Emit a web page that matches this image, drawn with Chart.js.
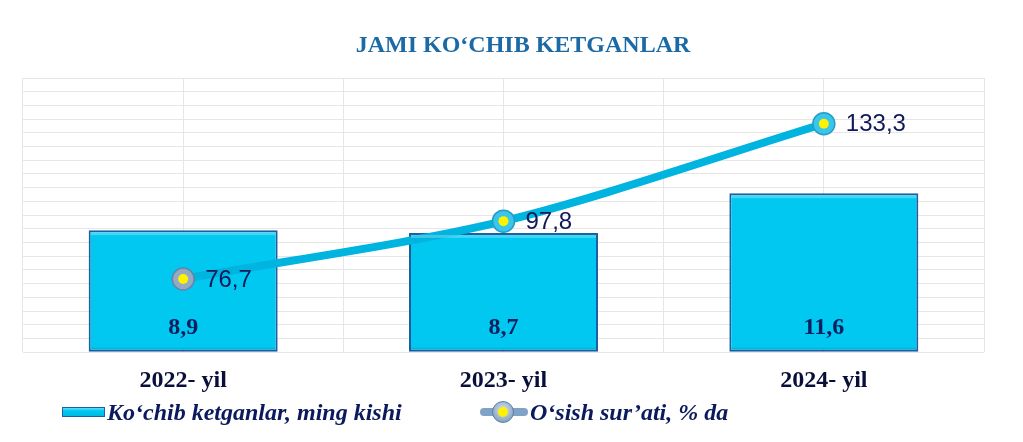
<!DOCTYPE html>
<html>
<head>
<meta charset="utf-8">
<script src="https://cdn.jsdelivr.net/npm/chart.js@4.4.1/dist/chart.umd.min.js"></script>
<style>
  html, body { margin: 0; padding: 0; background: #ffffff; }
  #wrap { position: relative; width: 1023px; height: 442px; }
  #c { position: absolute; left: 0; top: 0; }
  .lg { position: absolute; top: 399px; height: 26px; display: flex; align-items: center;
        font: italic bold 24px "Liberation Serif", "DejaVu Serif", serif; color: #0B1A5C; white-space: nowrap; }
  .box1 { width: 41px; height: 8px; background: linear-gradient(#5fe0ff, #00c8f0 35%, #00b8e4); border: 1px solid #1F5F9F; margin-right: 2px; }
  .mk2 { position: relative; width: 48px; height: 24px; margin-right: 2px; }
  .mk2 .ln { position: absolute; left: 0; top: 8px; width: 48px; height: 8px; border-radius: 4px; background: #7FA3C7; }
  .mk2 .pt { position: absolute; left: 12px; top: 1px; width: 20px; height: 20px; border-radius: 50%;
             background: radial-gradient(circle at 50% 40%, #d9e6f2, #8fa8c4 70%, #6f8fb3); border: 1px solid #5B7FA6; }
  .mk2 .pt i { position: absolute; left: 5px; top: 5px; width: 10px; height: 10px; border-radius: 50%; background: #FFF200; }
</style>
</head>
<body>
<div id="wrap">
  <canvas id="c" width="1023" height="442"></canvas>
  <div class="lg" style="left:62px;"><span class="box1"></span><span>Ko‘chib ketganlar, ming kishi</span></div>
  <div class="lg" style="left:480px;"><span class="mk2"><span class="ln"></span><span class="pt"><i></i></span></span><span>O‘sish sur’ati, % da</span></div>
</div>
<script>
const chartTitle = 'JAMI KO‘CHIB KETGANLAR';
const categories = ['2022- yil', '2023- yil', '2024- yil'];
const migrants = [8.9, 8.7, 11.6];          // Ko‘chib ketganlar, ming kishi
const growth = [76.7, 97.8, 133.3];         // O‘sish sur’ati, % da
const seriesNames = ['Ko‘chib ketganlar, ming kishi', 'O‘sish sur’ati, % da'];

const fmt = v => v.toFixed(1).replace('.', ',');
const GRID = '#E6E6E6';

const titlePlugin = {
  id: 'customTitle',
  afterDraw(chart) {
    const ctx = chart.ctx;
    ctx.save();
    ctx.font = 'bold 24px "Liberation Serif", "DejaVu Serif", serif';
    ctx.fillStyle = '#1B6AA5';
    ctx.textAlign = 'center';
    ctx.textBaseline = 'middle';
    ctx.fillText(chartTitle, 523, 46);
    ctx.restore();
  }
};

const labelPlugin = {
  id: 'valueLabels',
  afterDatasetsDraw(chart) {
    const ctx = chart.ctx;
    ctx.save();
    const barMeta = chart.getDatasetMeta(0);
    barMeta.data.forEach((bar, i) => {
      const left = bar.x - bar.width / 2, top = bar.y;
      ctx.fillStyle = 'rgba(255,255,255,0.25)';
      ctx.fillRect(left + 2, top + 2, bar.width - 4, 3);
      ctx.fillStyle = 'rgba(0,60,120,0.12)';
      ctx.fillRect(left + 2, bar.base - 4, bar.width - 4, 3);
      ctx.font = 'bold 24px "Liberation Serif", "DejaVu Serif", serif';
      ctx.fillStyle = '#0C1F5E';
      ctx.textAlign = 'center';
      ctx.textBaseline = 'middle';
      ctx.fillText(fmt(migrants[i]), bar.x, bar.base - 24);
    });
    const lineMeta = chart.getDatasetMeta(1);
    lineMeta.data.forEach((pt, i) => {
      ctx.beginPath();
      ctx.arc(pt.x, pt.y, 5, 0, Math.PI * 2);
      ctx.fillStyle = '#FFF200';
      ctx.fill();
      ctx.font = '24px "Liberation Sans", Arial, sans-serif';
      ctx.fillStyle = '#101858';
      ctx.textAlign = 'left';
      ctx.textBaseline = 'middle';
      ctx.fillText(fmt(growth[i]), pt.x + 22, pt.y + 1);
    });
    ctx.restore();
  }
};

new Chart(document.getElementById('c'), {
  data: {
    labels: categories,
    datasets: [
      {
        type: 'bar',
        label: seriesNames[0],
        data: migrants,
        backgroundColor: '#00C8F0',
        borderColor: '#1F5F9F',
        borderWidth: 2,
        borderSkipped: false,
        barPercentage: 0.59,
        categoryPercentage: 1,
        xAxisID: 'x',
        yAxisID: 'y',
        order: 2
      },
      {
        type: 'line',
        label: seriesNames[1],
        data: growth,
        borderColor: '#00B4E0',
        borderWidth: 8,
        tension: 0.3,
        pointRadius: 11,
        pointBorderWidth: 1.5,
        pointBackgroundColor: ['#94A9C4', '#38C6EA', '#38C6EA'],
        pointBorderColor: ['#6683A8', '#2A9CC4', '#2A9CC4'],
        xAxisID: 'x',
        yAxisID: 'y2',
        order: 1
      }
    ]
  },
  options: {
    responsive: false,
    animation: false,
    devicePixelRatio: 1,
    layout: { padding: { left: 23, right: 39, top: 78, bottom: 33 } },
    plugins: {
      legend: { display: false },
      title: { display: false },
      tooltip: { enabled: false }
    },
    scales: {
      x: {
        type: 'category',
        offset: true,
        grid: { offset: true, color: GRID, drawTicks: false },
        border: { display: false },
        ticks: {
          padding: 14,
          color: '#0A0F3A',
          font: { family: '"Liberation Serif", "DejaVu Serif", serif', size: 24, weight: 'bold' }
        }
      },
      x2: {
        type: 'category',
        labels: categories,
        position: 'top',
        offset: true,
        grid: { offset: false, color: GRID, drawTicks: false },
        border: { display: false },
        ticks: { display: false }
      },
      y: {
        min: 0,
        max: 20,
        position: 'left',
        grid: { color: GRID, drawTicks: false },
        border: { display: false },
        ticks: { display: false, stepSize: 1 }
      },
      y2: {
        min: 50,
        max: 150,
        position: 'right',
        display: false
      }
    }
  },
  plugins: [titlePlugin, labelPlugin]
});
</script>
</body>
</html>
